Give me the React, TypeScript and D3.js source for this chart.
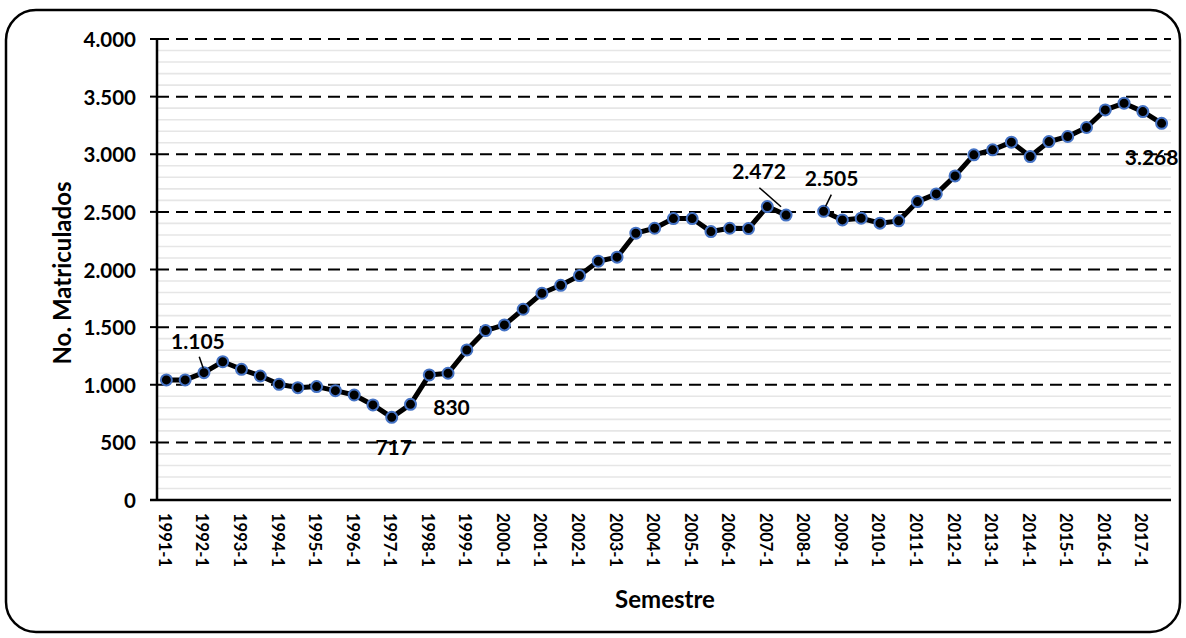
import React from "react";
import * as d3 from "d3";

const semesters: string[] = [];
for (let y = 1991; y <= 2017; y++) { semesters.push(`${y}-1`); semesters.push(`${y}-2`); }

const enrolled: (number | null)[] = [
  1042, 1042, 1105, 1200, 1134, 1076, 1004, 975, 984, 949,
  911, 825, 717, 830, 1085, 1100, 1302, 1470, 1519, 1655,
  1794, 1863, 1947, 2072, 2107, 2315, 2358, 2442, 2442, 2329,
  2358, 2355, 2546, 2472, null, 2505, 2430, 2445, 2402, 2422,
  2589, 2656, 2812, 2995, 3038, 3105, 2980, 3110, 3154, 3232,
  3385, 3443, 3370, 3268,
];

const yTicks = [0, 500, 1000, 1500, 2000, 2500, 3000, 3500, 4000];
const minorTicks = d3.range(0, 4001, 100).filter((v) => v % 500 !== 0);
const labelled = ["1992-1", "1997-1", "1997-2", "2007-2", "2008-2", "2017-2"];

// label placement (offsets relative to point, and optional leader line)
const labelCfg: Record<string, { dx: number; dy: number; leader?: [number, number, number, number] }> = {
  "1992-1": { dx: -6, dy: -32, leader: [-4.7, -16, -0.7, -4.5] },
  "1997-1": { dx: 2, dy: 29 },
  "1997-2": { dx: 41, dy: 2 },
  "2007-2": { dx: -27, dy: -45, leader: [-26.7, -27.3, -5, -8.3] },
  "2008-2": { dx: 8, dy: -34, leader: [7.7, -16.7, 2, -5] },
  "2017-2": { dx: -10, dy: 33 },
};

const fmt = (v: number) => d3.format(",")(v).replace(/,/g, ".");
const FONT = "Lato, 'Open Sans', sans-serif";

export default function App() {
  const W = 1186, H = 638;
  const left = 157, right = 1171, top = 39, bottom = 500;
  const x = d3.scaleBand<string>().domain(semesters).range([left, right]).padding(0);
  const cx = (s: string) => (x(s) as number) + x.bandwidth() / 2;
  const y = d3.scaleLinear().domain([0, 4000]).range([bottom, top]);

  const pts = semesters.map((s, i) => ({ s, v: enrolled[i] }));
  const line = d3.line<{ s: string; v: number | null }>()
    .defined((d) => d.v !== null)
    .x((d) => cx(d.s))
    .y((d) => y(d.v as number));

  return (
    <div style={{ position: "fixed", left: 0, top: 0 }}>
      <svg width={W} height={H} style={{ display: "block", background: "#fff" }} fontFamily={FONT}>
        <rect x={6} y={10} width={1174} height={622} rx={30} ry={30} fill="#fff" stroke="#000" strokeWidth={2.5} />
        {minorTicks.map((v) => (
          <line key={"m" + v} x1={left} x2={right} y1={y(v)} y2={y(v)} stroke="#e6e6e6" strokeWidth={1.6} />
        ))}
        {yTicks.filter((v) => v > 0).map((v) => (
          <line key={"g" + v} x1={left} x2={right} y1={y(v)} y2={y(v)} stroke="#000" strokeWidth={2} strokeDasharray="12 7" />
        ))}
        {yTicks.map((v) => (
          <g key={"t" + v}>
            <line x1={150} x2={left} y1={y(v)} y2={y(v)} stroke="#000" strokeWidth={2} />
            <text x={136} y={y(v)} textAnchor="end" dominantBaseline="central" fontSize={20.5} fontWeight={700} fill="#000">{fmt(v)}</text>
          </g>
        ))}
        <line x1={left} x2={left} y1={top} y2={bottom} stroke="#000" strokeWidth={2.5} />
        <line x1={left - 7} x2={right} y1={bottom} y2={bottom} stroke="#000" strokeWidth={2.5} />
        {semesters.filter((_, i) => i % 2 === 0).map((s) => (
          <text key={"x" + s} transform={`translate(${cx(s) - 1.5},${bottom + 13}) rotate(90)`} textAnchor="start" dominantBaseline="central" fontSize={16.5} fontWeight={700} fill="#000">{s}</text>
        ))}
        <path d={line(pts) || ""} fill="none" stroke="#000" strokeWidth={5} strokeLinejoin="round" />
        {pts.filter((d) => d.v !== null).map((d) => (
          <circle key={"c" + d.s} cx={cx(d.s)} cy={y(d.v as number)} r={5.5} fill="#000" stroke="#4472C4" strokeWidth={2} />
        ))}
        {labelled.map((s) => {
          const i = semesters.indexOf(s);
          const v = enrolled[i] as number;
          const px = cx(s), py = y(v);
          const c = labelCfg[s];
          return (
            <g key={"l" + s}>
              {c.leader && (
                <line x1={px + c.leader[0]} y1={py + c.leader[1]} x2={px + c.leader[2]} y2={py + c.leader[3]} stroke="#000" strokeWidth={1.5} />
              )}
              <text x={px + c.dx} y={py + c.dy} textAnchor="middle" dominantBaseline="central" fontSize={21} fontWeight={700} fill="#000">{fmt(v)}</text>
            </g>
          );
        })}
        <text transform={`translate(61,273) rotate(-90)`} textAnchor="middle" dominantBaseline="central" fontSize={24} fontWeight={700} fill="#000">No. Matriculados</text>
        <text x={665} y={598} textAnchor="middle" dominantBaseline="central" fontSize={24} fontWeight={700} fill="#000">Semestre</text>
      </svg>
    </div>
  );
}
